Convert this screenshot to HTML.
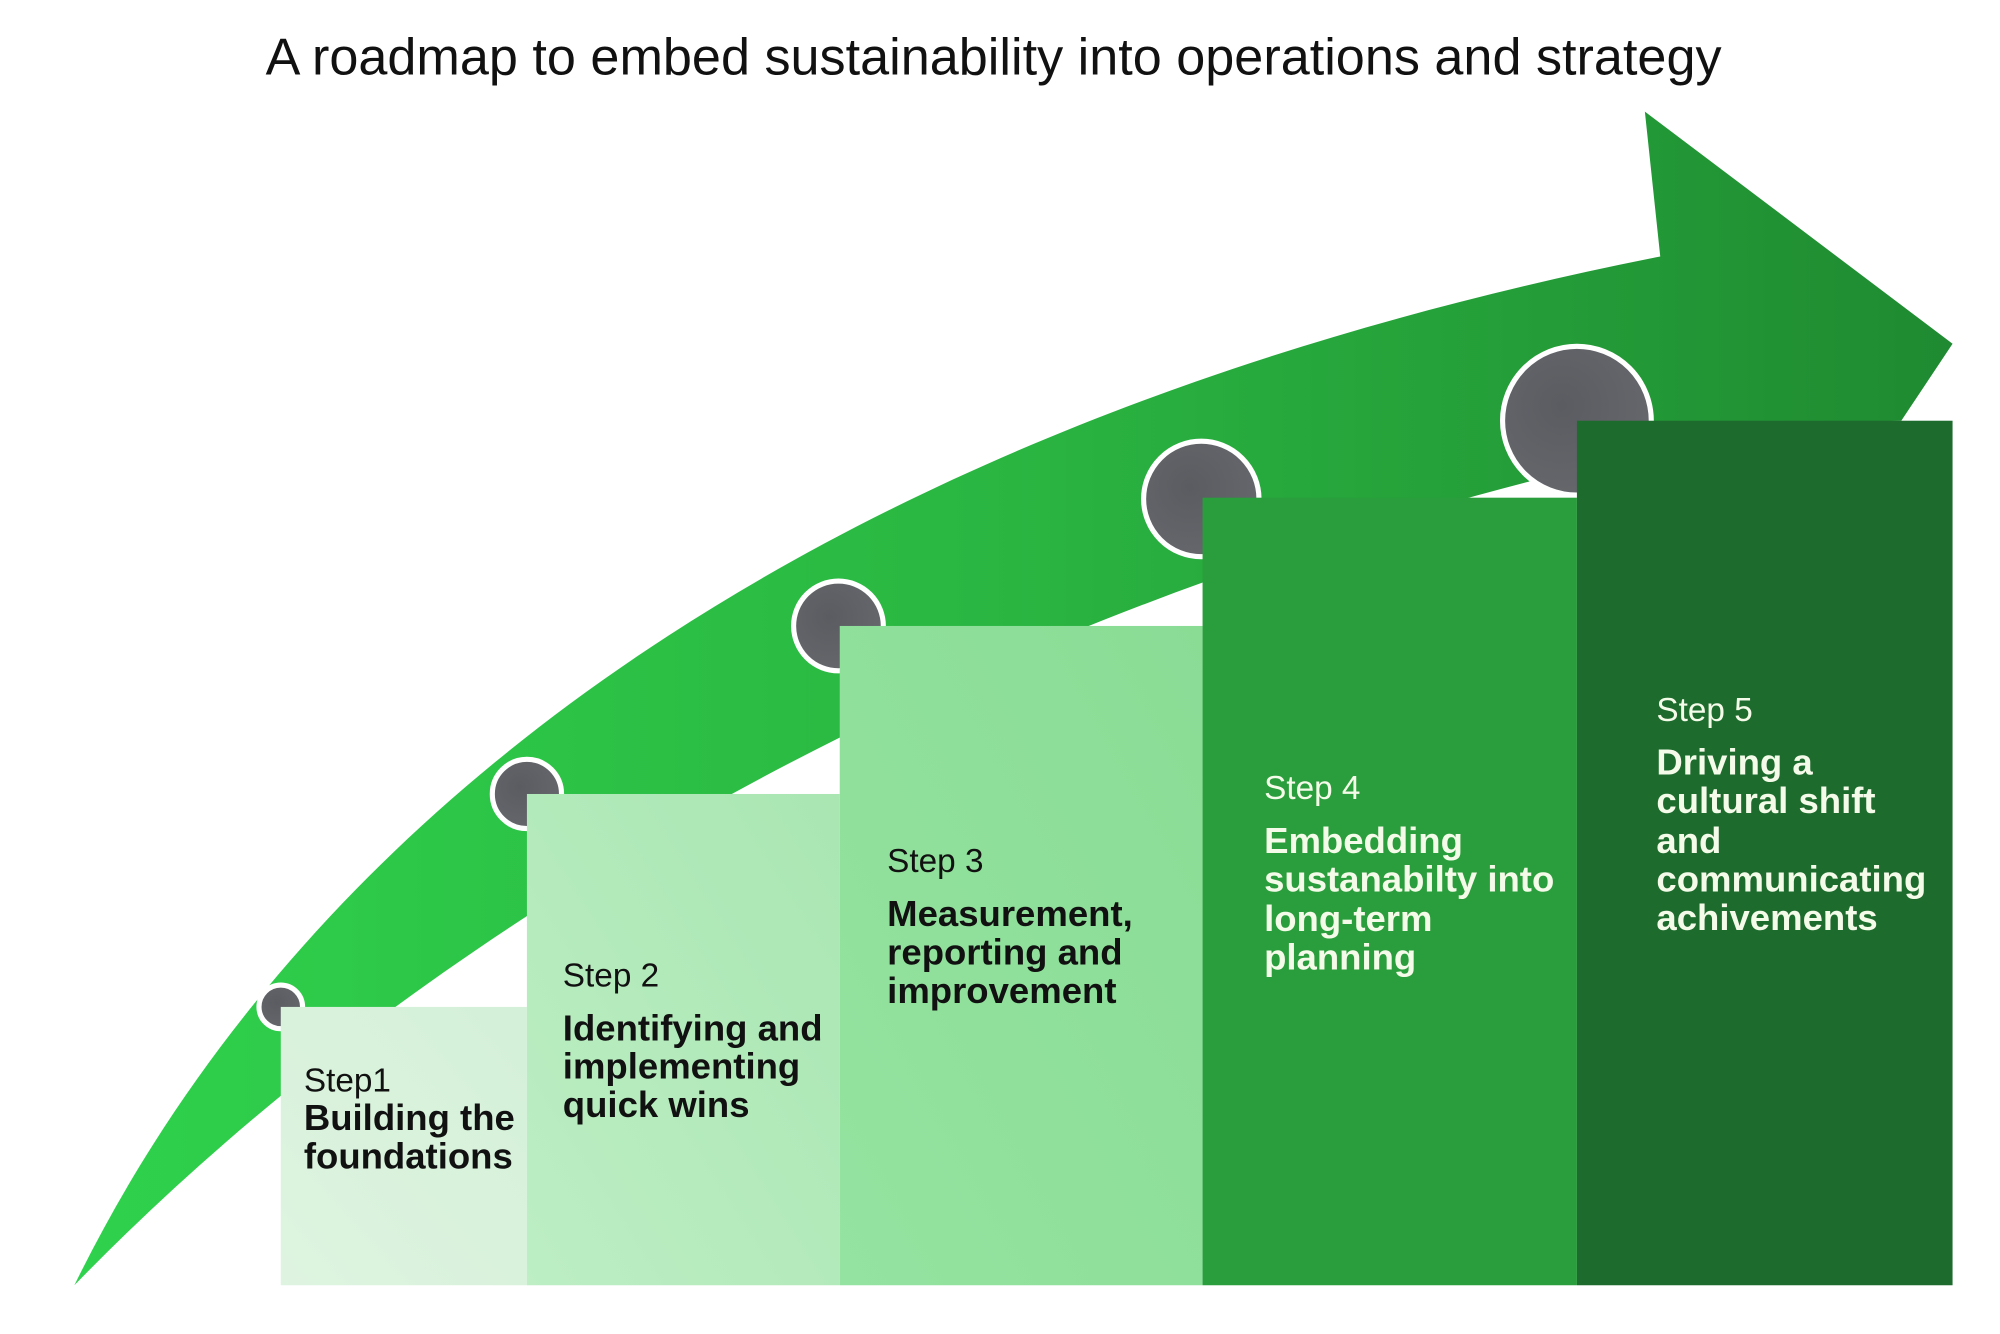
<!DOCTYPE html>
<html><head><meta charset="utf-8"><style>
html,body{margin:0;padding:0;background:#fff;width:2000px;height:1334px;overflow:hidden}
svg{display:block}
text{font-family:"Liberation Sans",Arial,sans-serif}
.s{font-size:26px}
.b{font-size:28.5px;font-weight:bold}
</style></head><body>
<svg width="2000" height="1334" viewBox="0 0 1560 1040" preserveAspectRatio="none">
<defs>
<linearGradient id="ar" x1="0" y1="0" x2="1" y2="0">
<stop offset="0" stop-color="#2fd24c"/><stop offset="0.5" stop-color="#2ab541"/><stop offset="1" stop-color="#1f8a31"/>
</linearGradient>
<linearGradient id="g1" x1="0" y1="1" x2="1" y2="0"><stop offset="0" stop-color="#def4e0"/><stop offset="1" stop-color="#d4f0d8"/></linearGradient>
<linearGradient id="g2" x1="0" y1="1" x2="1" y2="0"><stop offset="0" stop-color="#bdeec4"/><stop offset="1" stop-color="#a9e6b2"/></linearGradient>
<linearGradient id="g3" x1="0" y1="1" x2="1" y2="0"><stop offset="0" stop-color="#94e3a0"/><stop offset="1" stop-color="#8adc95"/></linearGradient>
<radialGradient id="cg" cx="0.4" cy="0.4" r="0.7"><stop offset="0" stop-color="#5a5c61"/><stop offset="1" stop-color="#66686d"/></radialGradient>
</defs>
<text x="775" y="58" text-anchor="middle" font-size="40.7" fill="#111">A roadmap to embed sustainability into operations and strategy</text>
<path d="M58,1002 C240,630 640,330 1295,200 L1283,87 L1523,268 L1483,328 L1400,330 C900,420 400,650 58,1002 Z" fill="url(#ar)"/>
<g fill="url(#cg)" stroke="#fff" stroke-width="4">
<circle cx="219" cy="785" r="17"/>
<circle cx="411" cy="619" r="27"/>
<circle cx="654" cy="488" r="35"/>
<circle cx="937" cy="389" r="45"/>
<circle cx="1230" cy="328" r="58"/>
</g>
<rect x="219" y="785" width="192" height="217" fill="url(#g1)"/>
<rect x="411" y="619" width="244" height="383" fill="url(#g2)"/>
<rect x="655" y="488" width="283" height="514" fill="url(#g3)"/>
<rect x="938" y="388" width="292" height="614" fill="#2a9e3c"/>
<rect x="1230" y="328" width="293" height="674" fill="#1e6b2e"/>
<g fill="#111">
<text x="237" y="851" class="s">Step1</text>
<text x="237" y="881" class="b">Building the</text>
<text x="237" y="911" class="b">foundations</text>
<text x="439" y="769" class="s">Step 2</text>
<text x="439" y="811" class="b">Identifying and</text>
<text x="439" y="841" class="b">implementing</text>
<text x="439" y="871" class="b">quick wins</text>
<text x="692" y="680" class="s">Step 3</text>
<text x="692" y="722" class="b">Measurement,</text>
<text x="692" y="752" class="b">reporting and</text>
<text x="692" y="782" class="b">improvement</text>
</g>
<g fill="#f4fbe9">
<text x="986" y="623" class="s">Step 4</text>
<text x="986" y="665" class="b">Embedding</text>
<text x="986" y="695" class="b">sustanabilty into</text>
<text x="986" y="726" class="b">long-term</text>
<text x="986" y="756" class="b">planning</text>
<text x="1292" y="562" class="s">Step 5</text>
<text x="1292" y="604" class="b">Driving a</text>
<text x="1292" y="634" class="b">cultural shift</text>
<text x="1292" y="665" class="b">and</text>
<text x="1292" y="695" class="b">communicating</text>
<text x="1292" y="725" class="b">achivements</text>
</g>
</svg>
</body></html>
